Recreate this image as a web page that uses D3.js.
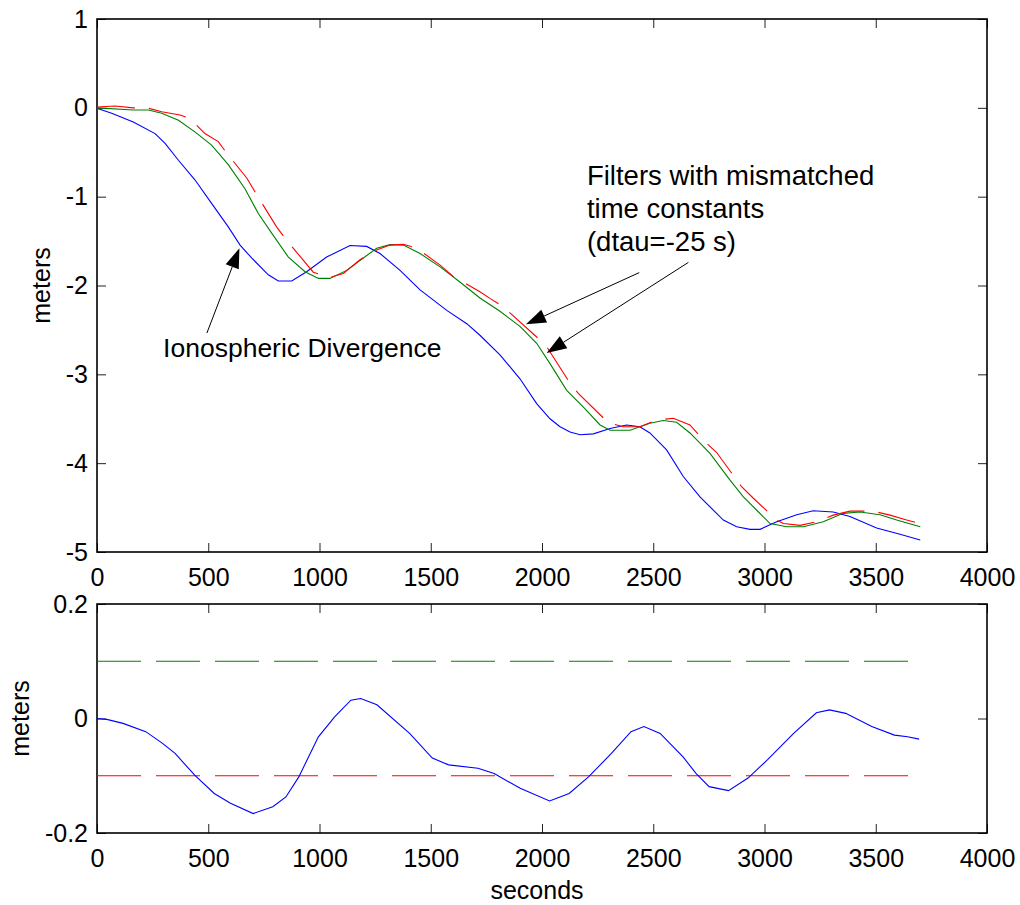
<!DOCTYPE html>
<html>
<head>
<meta charset="utf-8">
<script src="https://cdn.jsdelivr.net/npm/d3@7"></script>
<style>
  body { margin: 0; background: #fff; }
  svg { display: block; font-family: 'Liberation Sans', Arial, Helvetica, sans-serif; }
  .tick text { font-size: 25px; fill: #000; }
  .tick line { stroke: #222; stroke-width: 1; }
  .domain { display: none; }
  .frame { fill: none; stroke: #000; stroke-width: 1.6; }
  .label { font-size: 25px; fill: #000; }
  .note { font-size: 26.5px; fill: #000; }
  .note.filters { font-size: 27.5px; }
</style>
</head>
<body>
<svg id="chart" width="1020" height="905"></svg>
<script>
// ---- data (seconds / meters) ----
const xTicks = [0, 500, 1000, 1500, 2000, 2500, 3000, 3500, 4000];
const topYTicks = [-5, -4, -3, -2, -1, 0, 1];
const botYTicks = [-0.2, 0, 0.2];

// ionospheric divergence (blue)
const ionoT = [0, 6, 66, 163, 261, 306, 366, 440, 515, 590, 643, 695, 770, 815, 875, 942, 1032, 1137, 1212, 1272,
  1362, 1452, 1572, 1662, 1721, 1811, 1901, 1976, 2036, 2081, 2126, 2171, 2231, 2306, 2380, 2440, 2485, 2560,
  2635, 2710, 2815, 2875, 2935, 2980, 3055, 3145, 3219, 3309, 3384, 3504, 3609, 3700];
const ionoV = [0, -0.01, -0.06, -0.16, -0.29, -0.40, -0.59, -0.81, -1.075, -1.34, -1.545, -1.69, -1.88, -1.95, -1.95,
  -1.845, -1.68, -1.55, -1.56, -1.64, -1.83, -2.05, -2.28, -2.43, -2.56, -2.78, -3.05, -3.33, -3.50, -3.59, -3.65,
  -3.68, -3.67, -3.61, -3.57, -3.59, -3.66, -3.85, -4.15, -4.38, -4.64, -4.715, -4.745, -4.745, -4.66, -4.58,
  -4.535, -4.55, -4.60, -4.73, -4.80, -4.865];

// filter output, green
const greenT = [0, 163, 231, 291, 366, 440, 515, 590, 665, 725, 785, 860, 935, 995, 1047, 1122, 1197, 1257, 1317,
  1377, 1452, 1542, 1631, 1721, 1811, 1901, 1976, 2036, 2111, 2186, 2261, 2306, 2396, 2485, 2545, 2605, 2665,
  2755, 2845, 2905, 2965, 3025, 3100, 3175, 3264, 3354, 3429, 3519, 3594, 3700];
const greenV = [0, -0.025, -0.025, -0.06, -0.14, -0.27, -0.42, -0.64, -0.91, -1.19, -1.41, -1.68, -1.845, -1.92,
  -1.92, -1.83, -1.69, -1.58, -1.54, -1.545, -1.64, -1.79, -1.96, -2.14, -2.29, -2.46, -2.65, -2.88, -3.18, -3.37,
  -3.57, -3.63, -3.63, -3.55, -3.52, -3.54, -3.66, -3.89, -4.19, -4.38, -4.53, -4.68, -4.715, -4.715, -4.66,
  -4.565, -4.55, -4.58, -4.64, -4.715];

// filter output with mismatched time constant, red dashed
const redT = [0, 81, 163, 231, 291, 373, 418, 485, 545, 583, 673, 710, 807, 852, 972, 1047, 1107, 1182, 1257, 1317,
  1377, 1437, 1542, 1602, 1721, 1766, 1826, 1976, 2021, 2126, 2163, 2298, 2365, 2440, 2515, 2590, 2665, 2733,
  2785, 2897, 2950, 3055, 3085, 3160, 3235, 3309, 3384, 3489, 3564, 3639, 3700];
const redV = [0.01, 0.02, 0, -0.005, -0.045, -0.08, -0.12, -0.29, -0.38, -0.51, -0.79, -0.945, -1.34, -1.49, -1.85,
  -1.91, -1.865, -1.71, -1.60, -1.545, -1.535, -1.58, -1.77, -1.90, -2.07, -2.145, -2.24, -2.58, -2.69, -3.10,
  -3.215, -3.545, -3.59, -3.59, -3.515, -3.495, -3.57, -3.76, -3.88, -4.265, -4.395, -4.64, -4.68, -4.70, -4.66,
  -4.585, -4.54, -4.54, -4.585, -4.64, -4.68];

// difference between the two filters (bottom panel)
const diffT = [0, 44, 117, 219, 293, 351, 439, 527, 600, 702, 790, 849, 907, 995, 1068, 1141, 1185, 1258, 1405,
  1507, 1580, 1712, 1785, 1902, 2034, 2122, 2209, 2312, 2400, 2458, 2531, 2634, 2692, 2751, 2838, 2926, 3014,
  3131, 3233, 3292, 3365, 3482, 3584, 3643, 3695];
const diffV = [0, -0.0015, -0.0085, -0.023, -0.043, -0.061, -0.099, -0.131, -0.148, -0.166, -0.154, -0.137, -0.102,
  -0.032, 0.003, 0.032, 0.035, 0.024, -0.026, -0.069, -0.081, -0.087, -0.096, -0.122, -0.144, -0.131, -0.102,
  -0.061, -0.023, -0.014, -0.026, -0.067, -0.096, -0.119, -0.126, -0.104, -0.072, -0.026, 0.010, 0.015, 0.009,
  -0.014, -0.029, -0.032, -0.036];

// bounds (bottom panel)
const boundT = [0, 3700];
const upperV = [0.1, 0.1];
const lowerV = [-0.1, -0.1];

const zip = (ts, vs) => ts.map((t, i) => ({ t, v: vs[i] }));

// ---- layout ----
const plotLeft = 97, plotRight = 987;
const topPanel = { top: 19, bottom: 552 };
const botPanel = { top: 604, bottom: 833 };
const tick = 9;

const svg = d3.select('#chart');

const x = d3.scaleLinear().domain([0, 4000]).range([plotLeft, plotRight]);
const yTop = d3.scaleLinear().domain([-5, 1]).range([topPanel.bottom, topPanel.top]);
const yBot = d3.scaleLinear().domain([-0.2, 0.2]).range([botPanel.bottom, botPanel.top]);

const fmt = d => String(d);

function drawAxes(y, panel, yTicks) {
  // bottom axis with labels, inward ticks
  svg.append('g')
    .attr('transform', 'translate(0,' + panel.bottom + ')')
    .call(d3.axisBottom(x).tickValues(xTicks).tickFormat(fmt)
      .tickSizeInner(-tick).tickSizeOuter(0).tickPadding(16));
  // top axis, ticks only
  svg.append('g')
    .attr('transform', 'translate(0,' + panel.top + ')')
    .call(d3.axisTop(x).tickValues(xTicks).tickFormat('')
      .tickSizeInner(-tick).tickSizeOuter(0));
  svg.append('g')
    .attr('transform', 'translate(' + plotLeft + ',0)')
    .call(d3.axisLeft(y).tickValues(yTicks).tickFormat(fmt)
      .tickSizeInner(-tick).tickSizeOuter(0).tickPadding(9));
  svg.append('g')
    .attr('transform', 'translate(' + plotRight + ',0)')
    .call(d3.axisRight(y).tickValues(yTicks).tickFormat('')
      .tickSizeInner(-tick).tickSizeOuter(0));

  svg.append('rect')
    .attr('class', 'frame')
    .attr('x', plotLeft)
    .attr('y', panel.top)
    .attr('width', plotRight - plotLeft)
    .attr('height', panel.bottom - panel.top);
}

function drawLine(y, data, color, dash) {
  const line = d3.line().x(d => x(d.t)).y(d => y(d.v));
  svg.append('path')
    .datum(data)
    .attr('d', line)
    .attr('fill', 'none')
    .attr('stroke', color)
    .attr('stroke-width', 1.1)
    .attr('stroke-dasharray', dash || null);
}

// ---- top panel ----
drawAxes(yTop, topPanel, topYTicks);
drawLine(yTop, zip(ionoT, ionoV), '#0000ff');
drawLine(yTop, zip(greenT, greenV), '#008000');
drawLine(yTop, zip(redT, redV), '#ff0000', '38,14');

svg.append('text')
  .attr('class', 'label')
  .attr('transform', 'translate(50,' + (topPanel.top + topPanel.bottom) / 2 + ') rotate(-90)')
  .attr('text-anchor', 'middle')
  .text('meters');

// annotations (positions in data units)
function arrow(from, to) {
  const x0 = x(from[0]), y0 = yTop(from[1]), x1 = x(to[0]), y1 = yTop(to[1]);
  const len = Math.hypot(x1 - x0, y1 - y0), ux = (x1 - x0) / len, uy = (y1 - y0) / len;
  const headLen = 20, headW = 7;
  const bx = x1 - ux * headLen, by = y1 - uy * headLen;
  svg.append('line')
    .attr('x1', x0).attr('y1', y0).attr('x2', bx).attr('y2', by)
    .attr('stroke', '#000').attr('stroke-width', 1);
  svg.append('path')
    .attr('d', 'M' + x1 + ',' + y1 +
      'L' + (bx - uy * headW) + ',' + (by + ux * headW) +
      'L' + (bx + uy * headW) + ',' + (by - ux * headW) + 'Z')
    .attr('fill', '#000');
}

arrow([494, -2.535], [640, -1.58]);
arrow([2437, -1.855], [1928, -2.437]);
arrow([2658, -1.74], [2021, -2.76]);

svg.append('text')
  .attr('class', 'note')
  .attr('x', x(297))
  .attr('y', yTop(-2.80))
  .text('Ionospheric Divergence');

const filterNote = ['Filters with mismatched', 'time constants', '(dtau=-25 s)'];
svg.append('text')
  .attr('class', 'note filters')
  .selectAll('tspan')
  .data(filterNote)
  .join('tspan')
  .attr('x', x(2202))
  .attr('y', (d, i) => yTop(-0.87) + i * 33)
  .text(d => d);

// ---- bottom panel ----
drawAxes(yBot, botPanel, botYTicks);
drawLine(yBot, zip(boundT, upperV), '#008000', '44,15');
drawLine(yBot, zip(boundT, lowerV), '#ff0000', '44,15');
drawLine(yBot, zip(diffT, diffV), '#0000ff');

svg.append('text')
  .attr('class', 'label')
  .attr('transform', 'translate(29,' + (botPanel.top + botPanel.bottom) / 2 + ') rotate(-90)')
  .attr('text-anchor', 'middle')
  .text('meters');

svg.append('text')
  .attr('class', 'label')
  .attr('x', (plotLeft + plotRight) / 2 - 5)
  .attr('y', 899)
  .attr('text-anchor', 'middle')
  .text('seconds');
</script>
</body>
</html>
